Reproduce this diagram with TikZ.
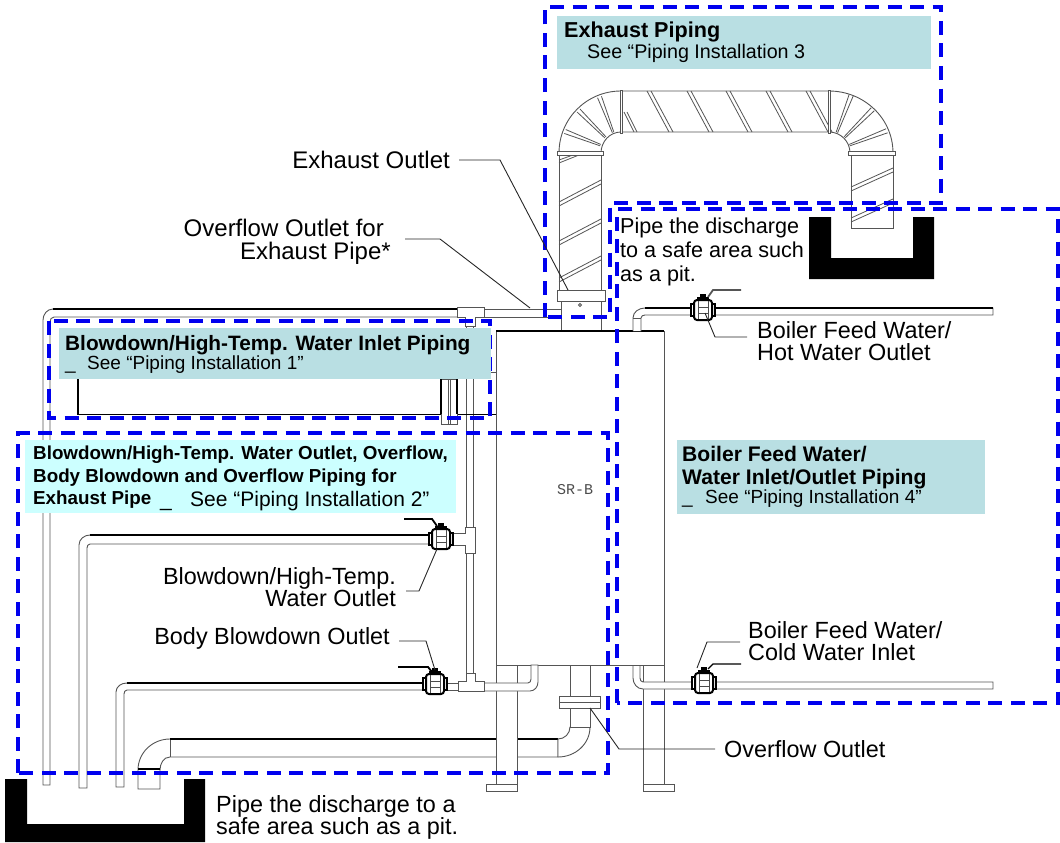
\documentclass[tikz,border=0pt]{standalone}
\usepackage{fontspec}
\setmainfont{Liberation Sans}
\newfontfamily\monolabel{Liberation Mono}
\definecolor{zoneblue}{HTML}{0000EE}
\definecolor{panelteal}{HTML}{B9DFE3}
\definecolor{panelcyan}{HTML}{CCFFFF}
\definecolor{pipegray}{HTML}{555555}
\newcommand{\seemark}[1]{\makebox[#1][l]{\_}}
\tikzset{
    pipe/.style={draw=pipegray, line width=0.9pt, fill=white},
    stripe/.style={draw=pipegray, line width=0.8pt},
    heavy/.style={draw=black, line width=1.3pt},
    leader/.style={draw=black!85, line width=0.9pt},
    zone/.style={draw=zoneblue, line width=3.2pt, dash pattern=on 14pt off 8.5pt},
    panel/.style={inner sep=0pt, outer sep=0pt, anchor=north west},
    paneltext/.style={anchor=base west, inner sep=0pt, align=left},
    callout/.style={font=\fontsize{23.4}{22}\selectfont, inner sep=0pt, align=right},
    pitwall/.style={fill=black, draw=none},
    pics/ballvalve/.style={code={
        \fill[black] (-3,-16) rectangle (3,-12);
        \fill[black] (-6,-13) rectangle (6,-9);
        \draw[black, line width=1.4pt, fill=white] (-12,-6) rectangle (12,6);
        \draw[black, line width=2pt, rounded corners=3pt, fill=white] (-9,-10) rectangle (9,10);
        \draw[black!70, line width=1pt] (-5,-9) -- (-5,9) (5,-9) -- (5,9) (-5,-3) -- (5,-3) (-5,3) -- (5,3);
    }}
}
\begin{document}
\begin{tikzpicture}[x=1pt,y=-1pt]
    \useasboundingbox (0,0) rectangle (1060,843);

    % Exhaust piping
    \draw[pipe] (559,153) to[out=90,in=180] (621,91) -- (829,91) to[out=0,in=90] (893,153)
        -- (850,153) to[out=90,in=0] (829,132) -- (621,132) to[out=180,in=90] (601,153) -- cycle;
    \draw[pipe] (559,153) rectangle (601,290);
    \draw[pipe] (851,153) rectangle (893,228);
    \foreach \x in {647,687,726,766,806} {
        \draw[stripe] (\x,91) -- (\x+22,132);
        \draw[stripe] (\x+4,91) -- (\x+26,132);
    }
    \draw[stripe] (624,112) -- (634,132) (627,112) -- (637,132);
    \foreach \a in {111,135,159} {
        \draw[stripe] (621,153)+(-\a-2:22) -- +(-\a-2:60);
        \draw[stripe] (621,153)+(-\a+2:22) -- +(-\a+2:60);
        \draw[stripe] (829,153)+(\a-182:22) -- +(\a-182:62);
        \draw[stripe] (829,153)+(\a-178:22) -- +(\a-178:62);
    }
    \foreach \y in {202,241,278} {
        \draw[stripe] (559,\y) -- (601,\y-22);
        \draw[stripe] (559,\y+4) -- (601,\y-18);
    }
    \draw[stripe] (559,163) -- (579,155) (559,160) -- (573,155);
    \foreach \y in {187,218} {
        \draw[stripe] (851,\y) -- (893,\y-19);
        \draw[stripe] (851,\y+4) -- (893,\y-15);
    }
    \draw[pipe] (620,90) rectangle (622.5,133.5);
    \draw[pipe] (828,90) rectangle (830.5,133.5);
    \draw[pipe] (557,151) rectangle (603,155);
    \draw[pipe] (848,151) rectangle (895,155);

    % Overflow pipe
    \draw[pipe] (138,789) -- (138,770) to[out=90,in=180] (170,739) -- (558,739)
        -- (558,757) -- (170,757) to[out=180,in=90] (160,770) -- (160,789) -- cycle;
    \draw[pipegray] (170,739) -- (170,757);
    \draw[heavy] (170,739) -- (558,739);
    \draw[heavy] (138,769) -- (160,769);
    \draw[pipe] (558,739) to[out=0,in=270] (570,727) -- (590,727) to[out=270,in=0] (558,757) -- cycle;
    \draw[pipe] (570,665) rectangle (590,696);
    \draw[pipe] (570,708) rectangle (590,727);
    \draw[pipe] (559,696) rectangle (600,708);
    \draw[pipe] (559,702) -- (600,702);

    % Exhaust outlet
    \draw[pipe] (561,301) rectangle (601,331);
    \draw[pipe] (557,290) rectangle (605,301);
    \draw[pipe] (580,305) circle (1.5);

    % Boiler body and legs
    \draw[pipe] (496,664) rectangle (517,786);
    \draw[pipe] (643,664) rectangle (664,786);
    \draw[pipe] (486,784) rectangle (517,791);
    \draw[pipe] (643,784) rectangle (674,791);
    \draw[pipe] (496,331) rectangle (664,665);
    \draw[heavy] (496,331) -- (664,331);
    \node[font=\monolabel\fontsize{15}{16}\selectfont, text=black!70, inner sep=0pt] (model) at (575,490) {SR-B};

    % Piping on the left
    \draw[pipe] (43,785) -- (43,320) to[out=90,in=180] (53,309) -- (458,309) -- (458,317)
        -- (54,317) to[out=180,in=90] (50,322) -- (50,785) -- cycle;
    \draw[heavy] (53,309) -- (458,309);
    \draw[pipe] (484,309) rectangle (561,317);
    \draw[pipe] (466,325) rectangle (473,527);
    \draw[pipe] (466,552) rectangle (473,673);
    \draw[pipe] (457,307) -- (484,307) -- (484,317) -- (475,317) -- (475,326) -- (465,326) -- (465,317) -- (457,317) -- cycle;
    \draw[pipe] (79,788) -- (79,545) to[out=90,in=180] (90,535) -- (430,535) -- (430,544)
        -- (90,544) to[out=180,in=90] (87,548) -- (87,788) -- cycle;
    \draw[heavy] (90,535) -- (430,535);
    \draw[pipe] (452,533) -- (465,533) -- (465,527) -- (475,527) -- (475,553) -- (465,553) -- (465,545) -- (452,545) -- cycle;
    \draw[pipe] (116,787) -- (116,692) to[out=90,in=180] (127,683) -- (425,683) -- (425,690)
        -- (127,690) to[out=180,in=90] (124,694) -- (124,787) -- cycle;
    \draw[heavy] (127,683) -- (425,683);
    \draw[pipe] (446,683) rectangle (458,690);
    \draw[pipe] (484,683) -- (528,683) to[out=0,in=270] (531,679) -- (531,665) -- (538,665)
        -- (538,682) to[out=270,in=0] (530,691) -- (484,691);
    \draw[pipe] (458,681) -- (466,681) -- (466,673) -- (475,673) -- (475,681) -- (484,681)
        -- (484,691) -- (458,691) -- cycle;

    % Inlet piping behind the panel
    \draw[heavy] (78,379) -- (78,414.5) -- (441,414.5);
    \draw[heavy] (457,414.5) -- (496,414.5);
    \draw[pipe] (441,379) rectangle (457,424);
    \draw[heavy] (441,379) -- (441,414);
    \draw[heavy] (457,379) -- (457,414);
    \draw[stripe] (448,379) -- (448,424) (450,379) -- (450,424);
    \draw[stripe] (491,372) -- (496,372);

    % Piping on the right
    \draw[pipe] (633,331) -- (633,318) to[out=90,in=180] (645,308) -- (993,308) -- (993,315)
        -- (645,315) to[out=180,in=90] (641,318) -- (641,331);
    \draw[stripe] (633,318) -- (641,318);
    \draw[heavy] (645,308) -- (993,308);
    \draw[pipe] (633,666) -- (633,678) to[out=270,in=180] (643,689) -- (993,689) -- (993,682)
        -- (643,682) to[out=180,in=270] (640,678) -- (640,666);

    % Valves
    \pic at (441,539) {ballvalve};
    \pic at (435,684) {ballvalve};
    \pic at (703,310) {ballvalve};
    \pic at (704,683) {ballvalve};
    \draw[heavy, line width=1.8pt] (404,519) -- (432,519) -- (437,526);
    \draw[heavy, line width=1.8pt] (398,667) -- (428,667) -- (432,672);
    \draw[pipe, line width=1.8pt] (741,290) -- (713,290) -- (708,297);
    \draw[heavy] (741,664) -- (713,664) -- (708,669);

    % Pits
    \draw[pitwall] (5,779) -- (27,779) -- (27,824) -- (184,824) -- (184,779) -- (205,779) -- (205,842) -- (5,842) -- cycle;
    \draw[pitwall] (809,217) -- (831,217) -- (831,258) -- (913,258) -- (913,217) -- (934,217) -- (934,279) -- (809,279) -- cycle;

    % Dashed zones
    \draw[zone] (545,317) -- (545,7) -- (941,7) -- (941,203) -- (610,203) -- (610,317) -- cycle;
    \draw[zone] (617,703) -- (617,209) -- (1058,209) -- (1058,703) -- cycle;
    \draw[zone] (49,321) rectangle (490,418);
    \draw[zone] (18,773) -- (18,433) -- (608,433) -- (608,773) -- cycle;

    % Panels
    \node[panel, fill=panelteal, minimum width=374pt, minimum height=53pt] (exhaustpanel) at (557,16) {};
    \node[paneltext, font=\bfseries\fontsize{21.6}{24}\selectfont] (exhausttitle) at (564,38) {Exhaust Piping};
    \node[paneltext, font=\fontsize{19.7}{20}\selectfont] (exhaustsee) at (587,59) {See “Piping Installation 3};

    \node[panel, fill=panelteal, minimum width=432pt, minimum height=51pt] (inletpanel) at (59,328) {};
    \node[paneltext, font=\bfseries\fontsize{20.8}{24}\selectfont] (inlettitle) at (65,350) {Blowdown/High-Temp. Water Inlet Piping};
    \node[paneltext, font=\fontsize{19}{20}\selectfont] (inletsee) at (65,369) {\seemark{22pt}See “Piping Installation 1”};

    \node[panel, fill=panelcyan, minimum width=431pt, minimum height=73pt] (outletpanel) at (25,440) {};
    \node[inner sep=0pt, anchor=north west, align=left, font=\bfseries\fontsize{18.8}{22.5}\selectfont] (outlettitle) at (33,446) {Blowdown/High-Temp. Water Outlet, Overflow,\\Body Blowdown and Overflow Piping for\\Exhaust Pipe};
    \node[paneltext, font=\fontsize{21}{22}\selectfont] (outletsee) at (160,506) {\seemark{30pt}See “Piping Installation 2”};

    \node[panel, fill=panelteal, minimum width=308pt, minimum height=74pt] (feedpanel) at (677,440) {};
    \node[inner sep=0pt, anchor=north west, align=left, font=\bfseries\fontsize{21.1}{23}\selectfont] (feedtitle) at (682,446) {Boiler Feed Water/\\Water Inlet/Outlet Piping};
    \node[paneltext, font=\fontsize{19}{20}\selectfont] (feedsee) at (682,503) {\seemark{23pt}See “Piping Installation 4”};

    % Callouts
    \node[callout, anchor=east, font=\fontsize{24}{23}\selectfont] (exhaustoutlet) at (450,160) {Exhaust Outlet};
    \node[callout, anchor=east, font=\fontsize{24}{23}\selectfont] (overflowexhaust) at (391,242) {\makebox[149pt][r]{Overflow Outlet for\hspace{7pt}}\\Exhaust Pipe*};
    \node[callout, anchor=east] (blowdownoutlet) at (396,587) {Blowdown/High-Temp.\hspace{3pt}\\Water Outlet};
    \node[callout, anchor=east] (bodyblowdown) at (390,638) {Body Blowdown Outlet};
    \node[callout, anchor=west, align=left] (hotoutlet) at (757,341) {Boiler Feed Water/\\Hot Water Outlet};
    \node[callout, anchor=west, align=left] (coldinlet) at (748,641) {Boiler Feed Water/\\Cold Water Inlet};
    \node[callout, anchor=west] (overflowoutlet) at (724,749) {Overflow Outlet};
    \node[callout, anchor=west, align=left] (pitlower) at (216,817) {Pipe the discharge to a\\safe area such as a pit.};
    \node[callout, anchor=west, align=left, font=\fontsize{21.6}{24}\selectfont] (pitupper) at (620,252) {Pipe the discharge\\to a safe area such\\as a pit.};

    % Leaders
    \coordinate (exhaustend) at (568,290);
    \coordinate (overflowend) at (530,308);
    \coordinate (blowdownend) at (437,549);
    \coordinate (bodyend) at (435,670);
    \coordinate (hotend) at (705,313);
    \coordinate (coldend) at (697,668);
    \coordinate (overflowflange) at (590,708);
    \draw[leader] (exhaustoutlet.east)+(9,0) -- (500,160) -- (exhaustend);
    \draw[leader] (405,239) -- (440,239) -- (overflowend);
    \draw[leader] (406,591) -- (419,591) -- (blowdownend);
    \draw[leader] (bodyblowdown.east)+(9,3) -- (426,641) -- (bodyend);
    \draw[leader] (747,337) -- (715,337) -- (hotend);
    \draw[leader] (740,642) -- (707,642) -- (coldend);
    \draw[leader] (overflowoutlet.west)+(-9,0) -- (619,749) -- (overflowflange);
\end{tikzpicture}
\end{document}
